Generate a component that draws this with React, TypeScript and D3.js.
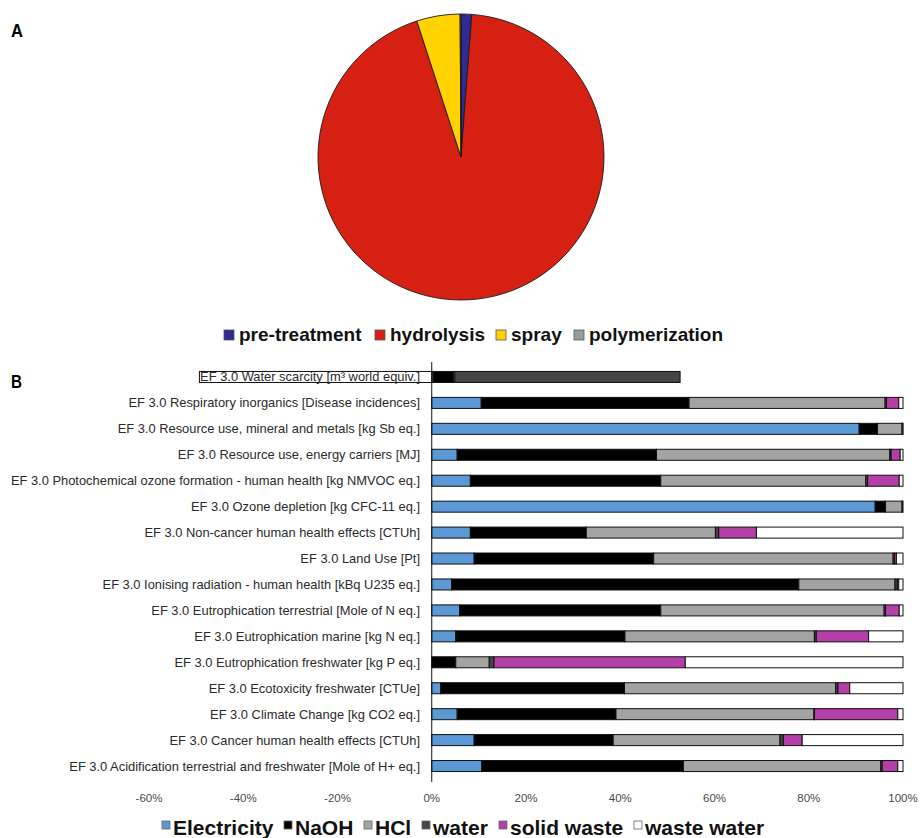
import React from "react";
import * as d3 from "d3";

// Panel A: process share
const processNames = ["pre-treatment", "hydrolysis", "spray", "polymerization"];
const processShares = [1.2, 93.8, 4.9, 0.1];
const processColors = ["#2f2b93", "#d62012", "#ffd200", "#95a09e"];

// Panel B: contributions per impact category (%)
const categories = [
  "EF 3.0 Water scarcity [m³ world equiv.]",
  "EF 3.0 Respiratory inorganics [Disease incidences]",
  "EF 3.0 Resource use, mineral and metals [kg Sb eq.]",
  "EF 3.0 Resource use, energy carriers [MJ]",
  "EF 3.0 Photochemical ozone formation - human health [kg NMVOC eq.]",
  "EF 3.0 Ozone depletion [kg CFC-11 eq.]",
  "EF 3.0 Non-cancer human health effects [CTUh]",
  "EF 3.0 Land Use [Pt]",
  "EF 3.0 Ionising radiation - human health [kBq U235 eq.]",
  "EF 3.0 Eutrophication terrestrial [Mole of N eq.]",
  "EF 3.0 Eutrophication marine [kg N eq.]",
  "EF 3.0 Eutrophication freshwater [kg P eq.]",
  "EF 3.0 Ecotoxicity freshwater [CTUe]",
  "EF 3.0 Climate Change [kg CO2 eq.]",
  "EF 3.0 Cancer human health effects [CTUh]",
  "EF 3.0 Acidification terrestrial and freshwater [Mole of H+ eq.]",
];
const electricity = [0.3, 10.5, 90.7, 5.4, 8.2, 94.1, 8.2, 9.0, 4.2, 5.9, 5.1, 0.0, 1.9, 5.4, 9.0, 10.6];
const naoh = [4.3, 44.1, 3.9, 42.3, 40.4, 2.2, 24.6, 38.1, 73.7, 42.7, 35.9, 5.1, 39.0, 33.7, 29.5, 42.8];
const hcl = [0.3, 41.6, 5.2, 49.5, 43.5, 3.5, 27.4, 50.8, 20.4, 47.4, 40.2, 7.1, 44.8, 42.0, 35.4, 41.9];
const water = [47.8, 0.3, 0.1, 0.3, 0.4, 0.1, 0.7, 0.3, 0.5, 0.3, 0.4, 1.0, 0.5, 0.1, 0.7, 0.3];
const solidWaste = [0.0, 2.6, 0.05, 1.9, 6.7, 0.0, 8.0, 0.4, 0.3, 2.9, 11.1, 40.6, 2.5, 17.7, 4.0, 3.3];
const wasteWater = [-49.3, 0.9, 0.05, 0.6, 0.8, 0.1, 31.1, 1.4, 0.9, 0.8, 7.3, 46.2, 11.3, 1.1, 21.4, 1.1];

const sourceNames = ["Electricity", "NaOH", "HCl", "water", "solid waste", "waste water"];
const sourceColors = ["#5a98d6", "#000000", "#a3a3a3", "#454545", "#b43fa8", "#ffffff"];
const sourceValues = [electricity, naoh, hcl, water, solidWaste, wasteWater];

const xTicks = [-60, -40, -20, 0, 20, 40, 60, 80, 100];

const FONT = "'Liberation Sans', Arial, sans-serif";

export default function App() {
  const width = 921;
  const height = 838;

  // pie
  const cx = 461;
  const cy = 157;
  const r = 143;
  const pie = d3.pie<number>().sort(null).value((d) => d)(processShares);
  const arc = d3.arc<d3.PieArcDatum<number>>().innerRadius(0).outerRadius(r);

  // stacked bars, negative shares stacked to the left of zero
  const rows = categories.map((c, i) => {
    const row: Record<string, any> = { category: c };
    sourceNames.forEach((s, k) => (row[s] = sourceValues[k][i]));
    return row;
  });
  const series = d3
    .stack<Record<string, any>>()
    .keys(sourceNames)
    .offset(d3.stackOffsetDiverging)(rows);

  const x = d3.scaleLinear().domain([-60, 100]).range([149, 903]);
  const y = d3
    .scaleBand<string>()
    .domain(categories)
    .range([364, 779])
    .paddingInner(0.575)
    .paddingOuter(0.2875);

  const procLegendX = [224, 375, 496, 574];
  const srcLegendX = [162, 284, 364, 422, 499, 634];

  return (
    <svg width={width} height={height} style={{ display: "block", position: "absolute", left: 0, top: 0 }}>
      <rect width={width} height={height} fill="#fff" />
      <text x={11} y={37} fontFamily={FONT} fontWeight="bold" fontSize={19} textLength={12} lengthAdjust="spacingAndGlyphs">A</text>
      <text x={11} y={388} fontFamily={FONT} fontWeight="bold" fontSize={19} textLength={11} lengthAdjust="spacingAndGlyphs">B</text>

      <g transform={`translate(${cx},${cy})`}>
        {pie.map((p, i) => (
          <path key={i} d={arc(p) || ""} fill={processColors[i]} stroke="#1a1a1a" strokeWidth={0.9} />
        ))}
      </g>

      <g fontFamily={FONT} fontWeight="bold" fontSize={19} fill="#111">
        {processNames.map((n, i) => (
          <g key={n}>
            <rect x={procLegendX[i]} y={330} width={10} height={10} fill={processColors[i]} stroke="#555" strokeWidth={0.8} />
            <text x={procLegendX[i] + 15} y={341}>{n}</text>
          </g>
        ))}
      </g>

      <g>
        {series.map((s, k) =>
          s.map((d, i) => {
            const x0 = x(Math.min(d[0], d[1]));
            const x1 = x(Math.max(d[0], d[1]));
            if (x1 - x0 <= 0) return null;
            return (
              <rect
                key={`${k}-${i}`}
                x={x0}
                y={y(categories[i])}
                width={x1 - x0}
                height={y.bandwidth()}
                fill={sourceColors[k]}
                stroke="#111"
                strokeWidth={1}
              />
            );
          })
        )}
      </g>

      <line x1={x(0)} x2={x(0)} y1={362} y2={782} stroke="#111" strokeWidth={1} />

      <g fontFamily={FONT} fontSize={12.9} fill="#2a2a2a" textAnchor="end">
        {categories.map((c) => (
          <text key={c} x={420} y={(y(c) as number) + y.bandwidth() / 2 + 4.5}>{c}</text>
        ))}
      </g>

      <g fontFamily={FONT} fontSize={11.5} fill="#4a4a4a" textAnchor="middle">
        {xTicks.map((t) => (
          <text key={t} x={x(t)} y={802}>{`${t}%`}</text>
        ))}
      </g>

      <g fontFamily={FONT} fontWeight="bold" fontSize={21} fill="#111">
        {sourceNames.map((n, i) => (
          <g key={n}>
            <rect x={srcLegendX[i]} y={821} width={8} height={8} fill={sourceColors[i]} stroke="#666" strokeWidth={0.8} />
            <text x={srcLegendX[i] + 11} y={835}>{n}</text>
          </g>
        ))}
      </g>
    </svg>
  );
}
